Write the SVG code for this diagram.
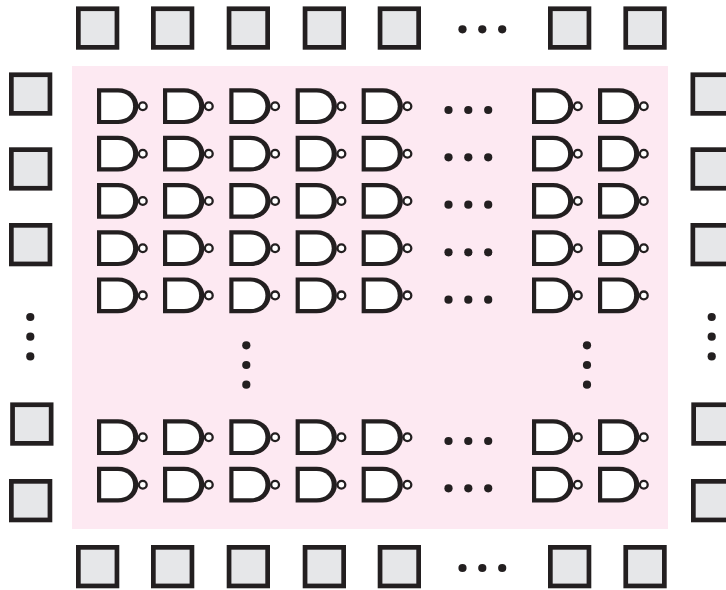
<svg xmlns="http://www.w3.org/2000/svg" width="726" height="590" viewBox="0 0 726 590">
<style>
.pad{fill:#e6e7e9;stroke:#231f20;stroke-width:4.700}
.outer{fill:#231f20}
.inner{fill:#fff}
.bub{fill:#fff;stroke:#231f20;stroke-width:2.300}
.dot{fill:#231f20}
</style>
<defs>
<rect id="p" class="pad" x="2.350" y="2.350" width="38.600" height="38.600"/>
<g id="n"><path class="outer" d="M0 0H21C33 0 41.300 8 41.300 18C41.300 28 33 35.800 21 35.800H0Z"/><path class="inner" d="M4.200 4.200H21C30 4.200 36.100 10 36.100 18C36.100 26 30 31.600 21 31.600H4.200Z"/><circle class="bub" cx="45.800" cy="18" r="3.900"/></g>
<g id="h"><circle class="dot" cx="0" cy="0" r="4.100"/><circle class="dot" cx="19.800" cy="0" r="4.100"/><circle class="dot" cx="39.700" cy="0" r="4.100"/></g>
<g id="v"><circle class="dot" cx="0" cy="0" r="4.100"/><circle class="dot" cx="0" cy="19.700" r="4.100"/><circle class="dot" cx="0" cy="39.400" r="4.100"/></g>
</defs>
<rect id="core" x="72" y="66" width="596" height="463" fill="#fde9f2"/>
<g id="pads">
<use href="#p" x="76" y="6.400"/><use href="#p" x="151" y="6.400"/><use href="#p" x="226.700" y="6.400"/><use href="#p" x="302.700" y="6.400"/><use href="#p" x="377.700" y="6.400"/><use href="#p" x="548" y="6.400"/><use href="#p" x="623.400" y="6.400"/>
<use href="#p" x="76" y="545"/><use href="#p" x="151" y="545"/><use href="#p" x="226.700" y="545"/><use href="#p" x="302.700" y="545"/><use href="#p" x="377.700" y="545"/><use href="#p" x="548" y="545"/><use href="#p" x="623.400" y="545"/>
<use href="#p" x="9" y="72.400"/><use href="#p" x="9" y="147.300"/><use href="#p" x="9" y="223"/><use href="#p" x="10.200" y="402.400"/><use href="#p" x="9" y="479"/>
<use href="#p" x="690.500" y="72.400"/><use href="#p" x="690.500" y="147.300"/><use href="#p" x="690.500" y="223"/><use href="#p" x="691.300" y="402.400"/><use href="#p" x="691" y="479"/>
</g>
<g id="gates">
<use href="#n" x="97" y="88.300"/><use href="#n" x="163" y="88.300"/><use href="#n" x="229.300" y="88.300"/><use href="#n" x="295.600" y="88.300"/><use href="#n" x="361.600" y="88.300"/><use href="#n" x="532" y="88.300"/><use href="#n" x="598" y="88.300"/>
<use href="#n" x="97" y="135.700"/><use href="#n" x="163" y="135.700"/><use href="#n" x="229.300" y="135.700"/><use href="#n" x="295.600" y="135.700"/><use href="#n" x="361.600" y="135.700"/><use href="#n" x="532" y="135.700"/><use href="#n" x="598" y="135.700"/>
<use href="#n" x="97" y="183"/><use href="#n" x="163" y="183"/><use href="#n" x="229.300" y="183"/><use href="#n" x="295.600" y="183"/><use href="#n" x="361.600" y="183"/><use href="#n" x="532" y="183"/><use href="#n" x="598" y="183"/>
<use href="#n" x="97" y="230.300"/><use href="#n" x="163" y="230.300"/><use href="#n" x="229.300" y="230.300"/><use href="#n" x="295.600" y="230.300"/><use href="#n" x="361.600" y="230.300"/><use href="#n" x="532" y="230.300"/><use href="#n" x="598" y="230.300"/>
<use href="#n" x="97" y="277.400"/><use href="#n" x="163" y="277.400"/><use href="#n" x="229.300" y="277.400"/><use href="#n" x="295.600" y="277.400"/><use href="#n" x="361.600" y="277.400"/><use href="#n" x="532" y="277.400"/><use href="#n" x="598" y="277.400"/>
<use href="#n" x="97" y="419.300"/><use href="#n" x="163" y="419.300"/><use href="#n" x="229.300" y="419.300"/><use href="#n" x="295.600" y="419.300"/><use href="#n" x="361.600" y="419.300"/><use href="#n" x="532" y="419.300"/><use href="#n" x="598" y="419.300"/>
<use href="#n" x="97" y="466.700"/><use href="#n" x="163" y="466.700"/><use href="#n" x="229.300" y="466.700"/><use href="#n" x="295.600" y="466.700"/><use href="#n" x="361.600" y="466.700"/><use href="#n" x="532" y="466.700"/><use href="#n" x="598" y="466.700"/>
</g>
<g id="ellipses">
<use href="#h" x="462.500" y="29.300"/><use href="#h" x="462.500" y="568"/>
<use href="#h" x="448.500" y="110"/><use href="#h" x="448.500" y="157.300"/><use href="#h" x="448.500" y="204.700"/><use href="#h" x="448.500" y="252.300"/><use href="#h" x="448.500" y="299.700"/><use href="#h" x="448.500" y="441"/><use href="#h" x="448.500" y="488.300"/>
<use href="#v" x="30.300" y="317"/><use href="#v" x="246.300" y="345.300"/><use href="#v" x="587" y="345.300"/><use href="#v" x="711.700" y="317"/>
</g>
</svg>
